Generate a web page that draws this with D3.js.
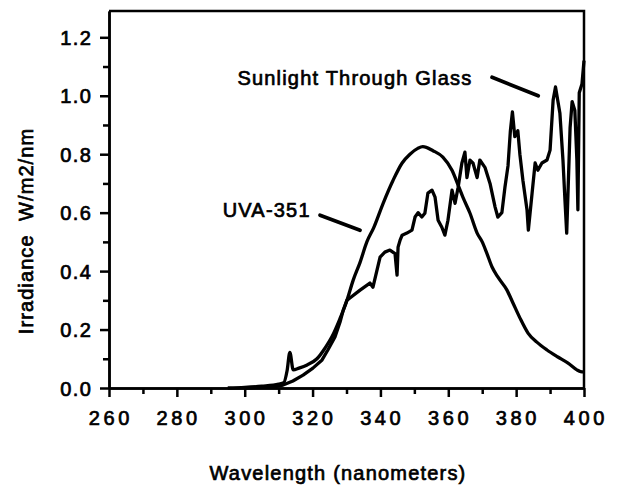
<!DOCTYPE html>
<html>
<head>
<meta charset="utf-8">
<script src="https://cdn.jsdelivr.net/npm/d3@7"></script>
<style>
    body { margin: 0; background: #fff; }
    text { font-family: "Liberation Sans", Arial, Helvetica, sans-serif; fill: #000; stroke: #000; stroke-width: 0.7px; }
</style>
</head>
<body>
<div class="main"></div>
<script>
"use strict";

// wavelength (nm) and irradiance (W/m2/nm)
var uvaWave = [295, 300, 305, 310, 311.5, 312.5, 313.3, 314.3, 316, 318.4, 321.3, 323.7, 325.7, 328, 330,
    332, 334, 336, 338, 340.8, 343.7, 346.4, 348.7, 351, 352.5, 355.5, 358.4, 361.1, 362.9, 364.3, 366.4,
    368.5, 370, 371.4, 372.9, 374.6, 377.3, 379.1, 381.1, 383.5, 386.1, 389.1, 392.3, 395.3, 397.9, 399, 400];
var uvaIrr = [0, 0.002, 0.006, 0.013, 0.018, 0.06, 0.122, 0.062, 0.068, 0.079, 0.10, 0.137, 0.175, 0.235, 0.295,
    0.37, 0.43, 0.50, 0.548, 0.632, 0.71, 0.77, 0.80, 0.82, 0.826, 0.812, 0.79, 0.745, 0.694, 0.653, 0.598,
    0.53, 0.50, 0.46, 0.414, 0.38, 0.335, 0.29, 0.24, 0.188, 0.157, 0.13, 0.106, 0.085, 0.062, 0.056, 0.055];

var sunWave = [300, 305, 309, 311.3, 314.2, 317.2, 320.1, 322.8, 324.5, 326.6, 328.1, 329, 330.1, 331, 334,
    336.9, 337.8, 339.9, 341.3, 342.8, 344.3, 344.9, 345.2, 345.8, 346.4, 347.8, 349.3, 350.2, 351.1, 352.2,
    353.1, 354, 355.2, 356.1, 357, 358.1, 359, 359.9, 361.1, 362, 362.9, 364, 364.9, 365.5, 366.4, 367.3,
    368.5, 369.3, 370.8, 372.3, 373.8, 374.6, 375.8, 376.7, 377.6, 378.3, 378.9, 379.6, 380.5, 381.1, 382,
    383.2, 383.6, 384.7, 385.6, 386.4, 387.6, 389.1, 390, 390.9, 391.6, 392.9, 393.8, 394.4, 394.9, 395.9,
    396.5, 397.3, 397.9, 398.2, 398.6, 399.4, 400];
var sunIrr = [0, 0.002, 0.005, 0.01, 0.024, 0.044, 0.068, 0.096, 0.13, 0.175, 0.226, 0.265, 0.30, 0.308, 0.335,
    0.359, 0.345, 0.448, 0.465, 0.472, 0.46, 0.386, 0.482, 0.506, 0.523, 0.53, 0.54, 0.585, 0.60, 0.585,
    0.598, 0.667, 0.677, 0.653, 0.574, 0.55, 0.523, 0.574, 0.677, 0.632, 0.687, 0.769, 0.807, 0.72, 0.78, 0.769,
    0.72, 0.78, 0.755, 0.70, 0.619, 0.585, 0.60, 0.687, 0.76, 0.88, 0.945, 0.86, 0.88, 0.80, 0.71,
    0.61, 0.54, 0.667, 0.77, 0.745, 0.77, 0.78, 0.814, 0.985, 1.03, 0.94, 0.78, 0.64, 0.53, 0.89,
    0.98, 0.95, 0.78, 0.61, 1.01, 1.04, 1.12];

var xTicks = [260, 280, 300, 320, 340, 360, 380, 400];
var xMinor = [270, 290, 310, 330, 350, 370, 390];
var yTicks = [0, 0.2, 0.4, 0.6, 0.8, 1.0, 1.2];
var yMinor = [0.1, 0.3, 0.5, 0.7, 0.9, 1.1];

var width = 620, height = 490;
var x = d3.scaleLinear().domain([260, 400]).range([109, 584]);
var y = d3.scaleLinear().domain([0, 1.29]).range([388, 11]);

var svg = d3.select('div.main').append('svg')
    .attr('width', width)
    .attr('height', height);

// frame (top and right)
svg.append('path')
    .attr('d', 'M' + x(260) + ',' + y(1.29) + 'H' + x(400) + 'V' + y(0))
    .attr('fill', 'none')
    .attr('stroke', '#000')
    .attr('stroke-width', 2.5);

// axes, ticks pointing outward
svg.append('g').attr('transform', 'translate(0,' + y(0) + ')')
    .call(d3.axisBottom(x).tickValues(xTicks).tickSize(9).tickSizeOuter(0).tickFormat(''));
svg.append('g').attr('transform', 'translate(0,' + y(0) + ')')
    .call(d3.axisBottom(x).tickValues(xMinor).tickSize(6).tickSizeOuter(0).tickFormat(''));
svg.append('g').attr('transform', 'translate(' + x(260) + ',0)')
    .call(d3.axisLeft(y).tickValues(yTicks).tickSize(9).tickSizeOuter(0).tickFormat(''));
svg.append('g').attr('transform', 'translate(' + x(260) + ',0)')
    .call(d3.axisLeft(y).tickValues(yMinor).tickSize(6).tickSizeOuter(0).tickFormat(''));

svg.selectAll('.domain').attr('stroke-width', 2.5);
svg.selectAll('.tick line').attr('stroke-width', 2.5);

// tick labels
svg.selectAll('text.xlab').data(xTicks).enter().append('text')
    .attr('class', 'xlab')
    .attr('x', function (d) { return x(d) + 1.8; })
    .attr('y', 425)
    .attr('text-anchor', 'middle')
    .style('font-size', '20px')
    .style('letter-spacing', '3.6px')
    .text(function (d) { return d; });

svg.selectAll('text.ylab').data(yTicks).enter().append('text')
    .attr('class', 'ylab')
    .attr('x', 92.5)
    .attr('y', function (d) { return y(d) + 7.5; })
    .attr('text-anchor', 'end')
    .style('font-size', '20px')
    .style('letter-spacing', '1.5px')
    .text(function (d) { return d.toFixed(1); });

// curves
var line = d3.line()
    .x(function (d) { return x(d[0]); })
    .y(function (d) { return y(d[1]); });

svg.append('path')
    .datum(d3.zip(uvaWave, uvaIrr))
    .attr('d', line.curve(d3.curveMonotoneX))
    .attr('fill', 'none')
    .attr('stroke', '#000')
    .attr('stroke-width', 3.3)
    .attr('stroke-linejoin', 'round');

svg.append('path')
    .datum(d3.zip(sunWave, sunIrr))
    .attr('d', line.curve(d3.curveLinear))
    .attr('fill', 'none')
    .attr('stroke', '#000')
    .attr('stroke-width', 3.3)
    .attr('stroke-linejoin', 'round');

// annotations
function label(txt, w, v) {
    svg.append('text')
        .attr('x', x(w) + 0.6)
        .attr('y', y(v))
        .attr('text-anchor', 'middle')
        .style('font-size', '20px')
        .style('letter-spacing', '1.2px')
        .text(txt);
}
function pointer(w1, v1, w2, v2) {
    svg.append('line')
        .attr('x1', x(w1)).attr('y1', y(v1))
        .attr('x2', x(w2)).attr('y2', y(v2))
        .attr('stroke', '#000')
        .attr('stroke-width', 3.8)
        .attr('stroke-linecap', 'round');
}

label('Sunlight Through Glass', 332.3, 1.036);
pointer(372.9, 1.063, 386.5, 1.0);
label('UVA-351', 306.3, 0.585);
pointer(322.2, 0.591, 334.0, 0.54);

// axis titles
svg.append('text')
    .attr('x', 338)
    .attr('y', 480)
    .attr('text-anchor', 'middle')
    .style('font-size', '20px')
    .style('letter-spacing', '1.2px')
    .text('Wavelength (nanometers)');

svg.append('text')
    .attr('transform', 'translate(33,231) rotate(-90)')
    .attr('text-anchor', 'middle')
    .style('font-size', '20px')
    .style('letter-spacing', '1.1px')
    .style('white-space', 'pre')
    .text('Irradiance  W/m2/nm');
</script>
</body>
</html>
